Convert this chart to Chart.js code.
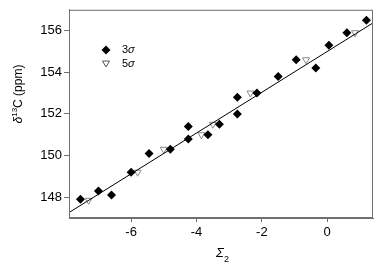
<!DOCTYPE html>
<html>
<head>
<meta charset="utf-8">
<script src="https://cdn.jsdelivr.net/npm/chart.js@4/dist/chart.umd.min.js"></script>
<style>
    html, body { margin: 0; padding: 0; background: #fff; }
    #wrap { width: 378px; height: 266px; }
</style>
</head>
<body>
<div id="wrap"><canvas id="shiftChart" width="378" height="266"></canvas></div>
<script>
// 3 sigma points
const sig3X = [-7.55, -7.0, -6.6, -6.0, -5.45, -4.8, -4.25, -4.25, -3.65, -3.3, -2.75, -2.75, -2.15, -1.5, -0.95, -0.35, 0.05, 0.6, 1.2];
const sig3Y = [147.9, 148.3, 148.1, 149.2, 150.1, 150.3, 150.8, 151.4, 151.0, 151.5, 152.0, 152.8, 153.0, 153.8, 154.6, 154.2, 155.3, 155.9, 156.5];
// 5 sigma points
const sig5X = [-7.3, -5.8, -5.0, -3.85, -3.5, -2.35, -0.65, 0.85];
const sig5Y = [147.85, 149.2, 150.3, 151.0, 151.5, 153.0, 154.6, 155.9];
// fitted line
const fitX = [-7.9, 1.4];
const fitY = [147.26, 156.37];

const xTicks = [-6, -4, -2, 0];
const yTicks = [148, 150, 152, 154, 156];

const FONT = '"Liberation Sans", Arial, sans-serif';
const AXIS = '#707070';

function pts(xs, ys) {
    return xs.map((x, i) => ({ x: x, y: ys[i] }));
}

const framePlugin = {
    id: 'frame',
    afterDraw(chart) {
        const ctx = chart.ctx;
        const a = chart.chartArea;
        ctx.save();
        ctx.textAlign = 'left';
        ctx.strokeStyle = AXIS;
        ctx.lineWidth = 1;
        ctx.strokeRect(a.left + 0.5, a.top + 0.5, a.right - a.left - 1, a.bottom - a.top - 1);

        // legend
        ctx.fillStyle = '#000';
        ctx.beginPath();
        ctx.moveTo(101.5, 50); ctx.lineTo(106, 45.5); ctx.lineTo(110.5, 50); ctx.lineTo(106, 54.5);
        ctx.closePath();
        ctx.fill();
        ctx.strokeStyle = '#555';
        ctx.beginPath();
        ctx.moveTo(102.5, 61); ctx.lineTo(109.5, 61); ctx.lineTo(106, 67);
        ctx.closePath();
        ctx.stroke();

        ctx.fillStyle = '#000';
        ctx.textBaseline = 'middle';
        ctx.font = '11px ' + FONT;
        ctx.fillText('3', 122, 50);
        ctx.fillText('5', 122, 64);
        const w = ctx.measureText('3').width;
        ctx.font = 'italic 11px ' + FONT;
        ctx.fillText('σ', 122 + w, 50);
        ctx.fillText('σ', 122 + w, 64);

        // x title
        ctx.textBaseline = 'alphabetic';
        ctx.font = 'italic 13px ' + FONT;
        ctx.fillText('Σ', 216, 257);
        ctx.font = '9px ' + FONT;
        ctx.fillText('2', 224, 262);

        // y title
        ctx.translate(17, 94);
        ctx.rotate(-Math.PI / 2);
        const parts = [
            { t: 'δ', f: 'italic 12px ', dy: 0 },
            { t: '13', f: '8px ', dy: -5 },
            { t: 'C (ppm)', f: '12px ', dy: 0 }
        ];
        let total = 0;
        parts.forEach(p => { ctx.font = p.f + FONT; total += ctx.measureText(p.t).width; });
        let cx = -total / 2;
        parts.forEach(p => {
            ctx.font = p.f + FONT;
            ctx.fillText(p.t, cx, 5 + p.dy);
            cx += ctx.measureText(p.t).width;
        });
        ctx.restore();
    }
};

new Chart(document.getElementById('shiftChart'), {
    type: 'scatter',
    data: {
        datasets: [
            {
                label: '3σ',
                data: pts(sig3X, sig3Y),
                pointStyle: 'rectRot',
                pointRadius: 4.5,
                backgroundColor: '#000',
                borderColor: '#000',
                borderWidth: 0
            },
            {
                type: 'line',
                label: 'fit',
                data: pts(fitX, fitY),
                borderColor: '#000',
                borderWidth: 1,
                pointRadius: 0,
                fill: false
            },
            {
                label: '5σ',
                data: pts(sig5X, sig5Y),
                pointStyle: 'triangle',
                rotation: 180,
                pointRadius: 4,
                backgroundColor: '#fff',
                borderColor: '#888',
                borderWidth: 1
            }
        ]
    },
    options: {
        responsive: false,
        animation: false,
        layout: { padding: { top: 2, right: 2, left: 0, bottom: 0 } },
        plugins: { legend: { display: false }, tooltip: { enabled: false } },
        scales: {
            x: {
                type: 'linear',
                min: -7.9,
                max: 1.4,
                afterBuildTicks: s => { s.ticks = xTicks.map(v => ({ value: v })); },
                afterFit: s => { s.height = 48; },
                grid: { drawOnChartArea: false, drawTicks: true, tickLength: 4, color: AXIS },
                border: { display: true, color: AXIS },
                ticks: { color: '#000', font: { family: FONT, size: 13 }, padding: 3, maxRotation: 0 }
            },
            y: {
                type: 'linear',
                min: 147,
                max: 157,
                afterBuildTicks: s => { s.ticks = yTicks.map(v => ({ value: v })); },
                afterFit: s => { s.width = 69; },
                grid: { drawOnChartArea: false, drawTicks: true, tickLength: 5, color: AXIS },
                border: { display: true, color: AXIS },
                ticks: { color: '#000', font: { family: FONT, size: 13 }, padding: 2 }
            }
        }
    },
    plugins: [framePlugin]
});
</script>
</body>
</html>
